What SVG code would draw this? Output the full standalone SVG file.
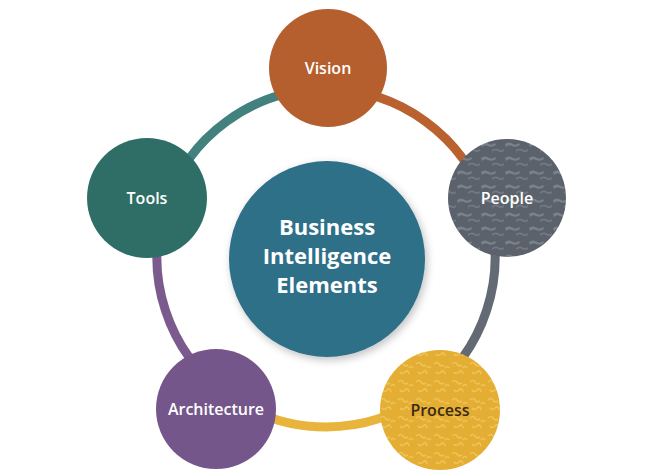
<svg xmlns="http://www.w3.org/2000/svg" width="650" height="475" viewBox="0 0 650 475">
<style>
.lbl{font-family:"Open Sans","Noto Sans","Liberation Sans",sans-serif;font-weight:600;font-size:16px;text-anchor:middle;fill:#ffffff}
.big{font-size:22px;font-weight:700}
.ring{fill:none;stroke-width:9;stroke-linecap:butt}
</style>
<defs>
<pattern id="pPeople" width="24" height="14" patternUnits="userSpaceOnUse">
<rect width="24" height="14" fill="#5b626c"/>
<path d="M1,4 q4,-3 8,0 q3,2 6,-1 l1,2 q-4,3 -8,1 q-3,-2 -6,1z" fill="#7b828c"/>
<path d="M12,10 q4,-3 8,0 q2,1 4,-1 l0,2 q-3,2 -6,0 q-3,-2 -6,1z" fill="#737a84"/>
</pattern>
<pattern id="pProcess" width="18" height="18" patternUnits="userSpaceOnUse">
<rect width="18" height="18" fill="#e4ae35"/>
<path d="M2,4 q3,-3 5,0 t5,1 M4,12 q2,3 5,0 t4,2 M13,8 q2,-3 4,0" fill="none" stroke="#efc354" stroke-width="1.6"/>
</pattern>
<filter id="sh" x="-20%" y="-20%" width="140%" height="140%">
<feGaussianBlur in="SourceAlpha" stdDeviation="4"/>
<feOffset dx="2" dy="3"/>
<feComponentTransfer><feFuncA type="linear" slope="0.25"/></feComponentTransfer>
<feMerge><feMergeNode/><feMergeNode in="SourceGraphic"/></feMerge>
</filter>
</defs>
<rect width="650" height="475" fill="#ffffff"/>
<g id="connectors">
<path class="ring" stroke="#b9612f" d="M326,89 A169,169 0 0 1 486.7,205.8"/>
<path class="ring" stroke="#636a74" d="M486.7,205.8 A169,169 0 0 1 425.3,394.7"/>
<path class="ring" stroke="#e8b43c" d="M425.3,394.7 A169,169 0 0 1 226.7,394.7"/>
<path class="ring" stroke="#7b5b8e" d="M226.7,394.7 A169,169 0 0 1 165.3,205.8"/>
<path class="ring" stroke="#43817f" d="M165.3,205.8 A169,169 0 0 1 326,89"/>
</g>
<g id="center">
<circle cx="327" cy="259" r="98" fill="#2f6f88" filter="url(#sh)"/>
<text class="lbl big" x="327" y="235">Business</text>
<text class="lbl big" x="327" y="264">Intelligence</text>
<text class="lbl big" x="327" y="293">Elements</text>
</g>
<g id="vision">
<circle cx="328" cy="68" r="59" fill="#b55f2e"/>
<text class="lbl" x="328" y="74">Vision</text>
</g>
<g id="people">
<circle cx="507" cy="198" r="59" fill="url(#pPeople)"/>
<text class="lbl" x="507" y="204">People</text>
</g>
<g id="process">
<circle cx="440" cy="410" r="60" fill="url(#pProcess)"/>
<text class="lbl" x="440" y="416" style="fill:#3a2a12">Process</text>
</g>
<g id="architecture">
<circle cx="216" cy="409" r="60" fill="#74568a"/>
<text class="lbl" x="216" y="415">Architecture</text>
</g>
<g id="tools">
<circle cx="147" cy="198" r="60" fill="#2f6e67"/>
<text class="lbl" x="147" y="204">Tools</text>
</g>
</svg>
